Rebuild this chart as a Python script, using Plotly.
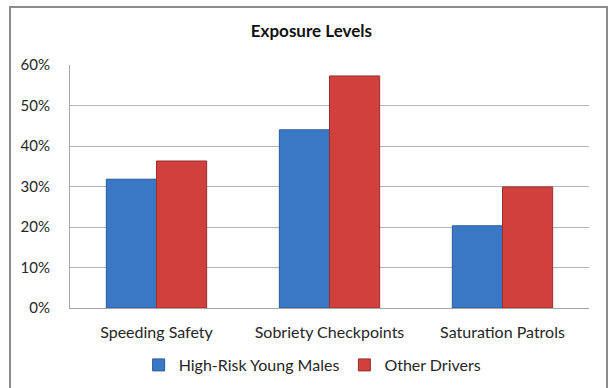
import plotly.graph_objects as go

# Exposure shares by enforcement type
categories = ["Speeding Safety", "Sobriety Checkpoints", "Saturation Patrols"]
high_risk_young_males = [0.318, 0.44, 0.203]
other_drivers = [0.363, 0.573, 0.299]
tick_values = [0, 0.1, 0.2, 0.3, 0.4, 0.5, 0.6]
tick_labels = ["0%", "10%", "20%", "30%", "40%", "50%", "60%"]

FONT = "Lato, 'Open Sans', sans-serif"
TEXT = "#262626"

fig = go.Figure()
fig.add_trace(go.Bar(
    name="High-Risk Young Males",
    x=categories,
    y=high_risk_young_males,
    marker=dict(color="#3A78C6", line=dict(color="#2C5A98", width=1)),
))
fig.add_trace(go.Bar(
    name="Other Drivers",
    x=categories,
    y=other_drivers,
    marker=dict(color="#D0403C", line=dict(color="#98302D", width=1)),
))

# Outer chart frame (paper coords relative to the plot area)
L, R, T, B = 70, 24, 65, 80
W, H = 613, 388
pw, ph = W - L - R, H - T - B
def px_x(p):
    return (p - L) / pw
def px_y(p):
    return (H - B - p) / ph

fig.add_shape(
    type="rect", xref="paper", yref="paper",
    x0=px_x(10), x1=px_x(607), y0=px_y(395), y1=px_y(7),
    line=dict(color="#8C8C8C", width=2), fillcolor="rgba(0,0,0,0)",
    layer="above",
)

fig.update_layout(
    width=W, height=H,
    margin=dict(l=L, r=R, t=T, b=B, autoexpand=False),
    paper_bgcolor="white",
    plot_bgcolor="white",
    barmode="group",
    bargap=0.42,
    bargroupgap=0,
    font=dict(family=FONT, size=15, color=TEXT),
    title=dict(
        text="<b>Exposure Levels</b>",
        x=0.508, xref="container", xanchor="center",
        y=1 - 31 / H, yref="container", yanchor="middle",
        font=dict(family=FONT, size=17, color="#111111"),
    ),
    showlegend=True,
    legend=dict(
        orientation="h",
        x=0.51, xref="container", xanchor="center",
        y=1 - 365 / H, yref="container", yanchor="middle",
        font=dict(family=FONT, size=16, color=TEXT),
        itemwidth=30,
        tracegroupgap=0,
        traceorder="normal",
        bgcolor="rgba(0,0,0,0)",
    ),
    xaxis=dict(
        automargin=False,
        showgrid=False,
        showline=True, linecolor="#A6A6A6", linewidth=1,
        ticks="",
        tickfont=dict(family=FONT, size=16, color=TEXT),
        ticklabelstandoff=10,
    ),
    yaxis=dict(
        automargin=False,
        range=[0, 0.6],
        tickvals=tick_values,
        ticktext=tick_labels,
        showgrid=True, gridcolor="#B4B4B4", gridwidth=1,
        showline=True, linecolor="#A6A6A6", linewidth=1,
        zeroline=False,
        ticks="",
        ticklabelstandoff=16,
        tickfont=dict(family=FONT, size=15, color=TEXT),
    ),
)

fig.write_html("out.html")
